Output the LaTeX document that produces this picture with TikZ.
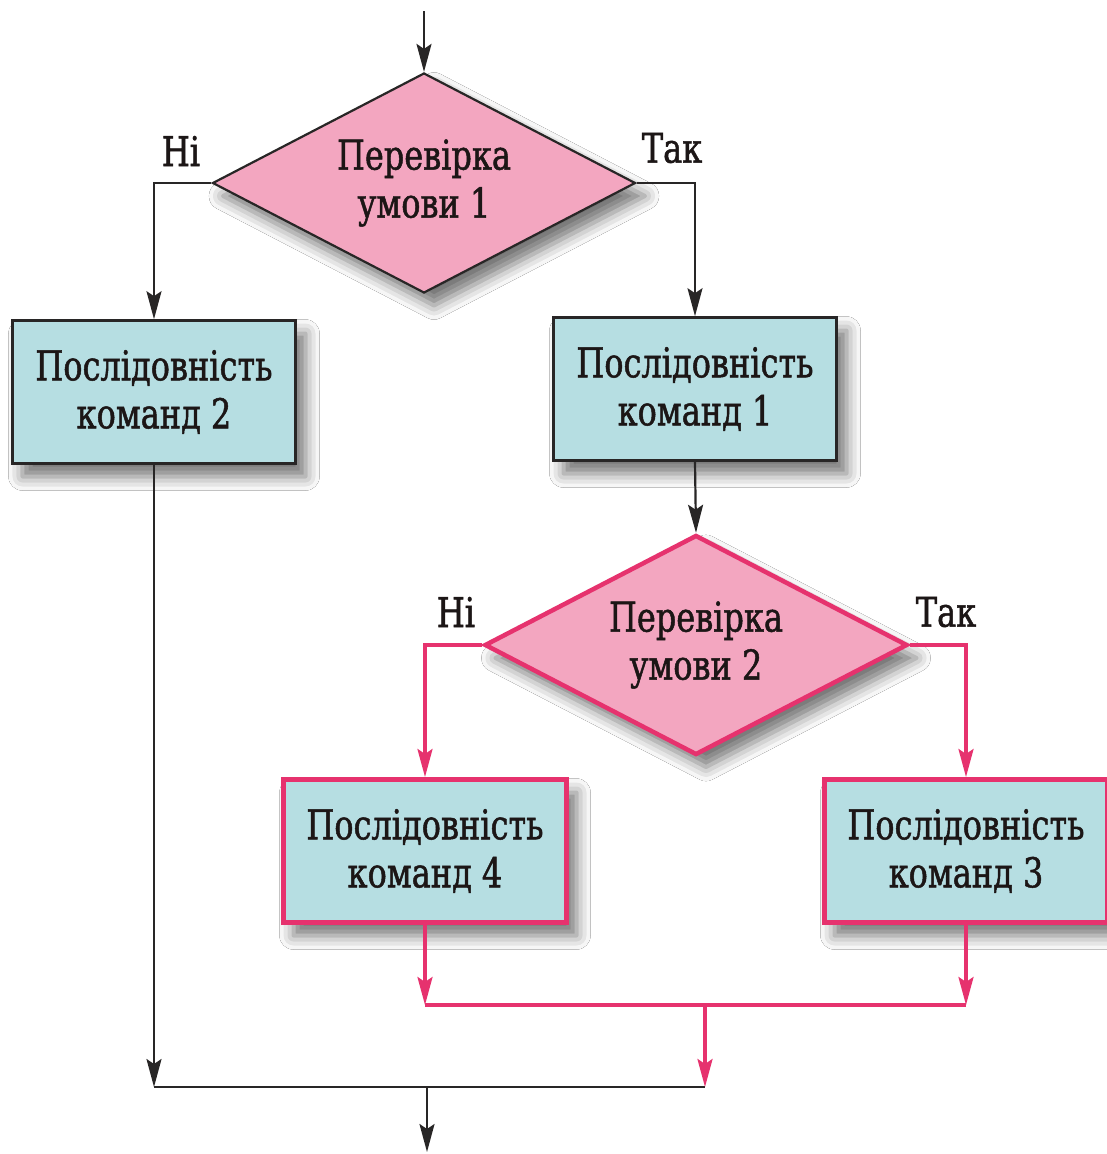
\documentclass[tikz,border=0pt]{standalone}
\usepackage{fontspec}
\setmainfont{DejaVu Serif}[FakeStretch=0.78,FakeBold=1.2]
\usetikzlibrary{shapes.geometric,arrows.meta,shadows.blur}
\definecolor{pinkfill}{RGB}{243,166,192}
\definecolor{tealfill}{RGB}{182,222,226}
\definecolor{pinkline}{RGB}{230,50,110}
\definecolor{linedark}{RGB}{40,38,38}
\definecolor{txt}{RGB}{28,22,22}
\begin{document}
\begin{tikzpicture}[x=1pt,y=-1pt,
  lab/.style={font=\fontsize{41}{48}\selectfont, text=txt, inner sep=0pt},
  shd/.style={blur shadow={shadow xshift=10pt, shadow yshift=-13pt, shadow blur radius=14pt, shadow opacity=55}},
  procbox/.style={shd, draw=linedark, line width=2.6pt, fill=tealfill, minimum width=283pt, minimum height=143pt, inner sep=0pt, align=center, font=\fontsize{41}{48}\selectfont, text=txt},
  pbox/.style={procbox, draw=pinkline, line width=5pt},
  decis/.style={shd, diamond, draw=linedark, line width=2.2pt, fill=pinkfill, shape aspect=1.92, minimum width=423pt, minimum height=220pt, inner sep=0pt, align=center, font=\fontsize{41}{48}\selectfont, text=txt},
  pdecis/.style={decis, draw=pinkline, line width=4.5pt},
  conn/.style={draw=linedark, line width=2.2pt},
  pconn/.style={draw=pinkline, line width=3.2pt},
  arr/.style={-{Stealth[length=28pt,width=15pt,inset=5pt]}}
]
\useasboundingbox[fill=white] (0,0) rectangle (1107,1154);

% decisions
\node[decis] (d1) at (424,183) {Перевірка\\умови 1};
\node[pdecis] (d2) at (696,645) {Перевірка\\умови 2};

% process boxes
\node[procbox] (b2) at (154,392) {Послідовність\\команд 2};
\node[procbox] (b1) at (695,389) {Послідовність\\команд 1};
\node[pbox] (b4) at (425,851) {Послідовність\\команд 4};
\node[pbox] (b3) at (966,851) {Послідовність\\команд 3};

% labels
\node[lab] (n1) at (181,151) {Ні};
\node[lab] (t1) at (672,148) {Так};
\node[lab] (n2) at (456,612) {Ні};
\node[lab] (t2) at (946,612) {Так};

% coordinates
\coordinate (start) at (424,11);
\coordinate (jl) at (425,1005);
\coordinate (jr) at (966,1005);
\coordinate (jm) at (705,1005);
\coordinate (bl) at (154,1087);
\coordinate (bm) at (705,1087);
\coordinate (bo) at (427,1087);
\coordinate (fin) at (427,1152);

% black connectors
\draw[conn,arr] (start) -- (d1.north);
\draw[conn,arr] (d1.west) -| (b2.north);
\draw[conn,arr] (d1.east) -| (b1.north);
\draw[conn,arr] (b1.south) -- (d2.north);
\draw[conn,arr] (b2.south) -- (bl);
\draw[conn] (bl) -- (bm);
\draw[conn,arr] (bo) -- (fin);

% pink connectors
\draw[pconn,arr] (d2.west) -| (b4.north);
\draw[pconn,arr] (d2.east) -| (b3.north);
\draw[pconn,arr] (b4.south) -- (jl);
\draw[pconn,arr] (b3.south) -- (jr);
\draw[pconn] (jl) -- (jr);
\draw[pconn,arr] (jm) -- (bm);
\end{tikzpicture}
\end{document}
